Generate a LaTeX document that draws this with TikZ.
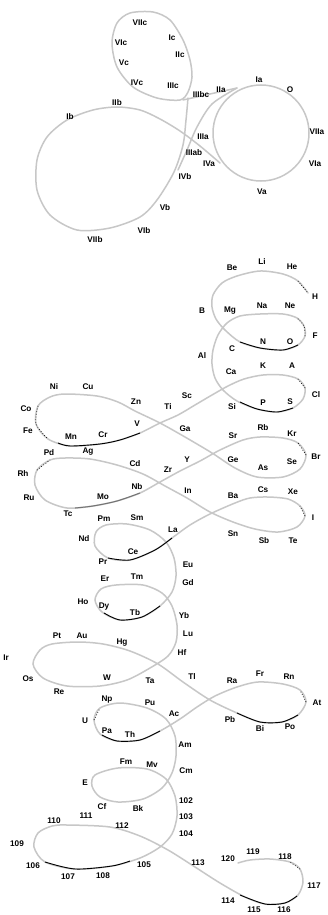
\documentclass[tikz,border=0pt]{standalone}
\usepackage{fontspec}
\setmainfont{Liberation Sans}
\begin{document}
\begin{tikzpicture}[x=1pt,y=-1pt,
  lbl/.style={font=\bfseries\fontsize{8.2}{9}\selectfont, inner sep=0pt},
  crv/.style={draw=black!22, line width=1.5pt, line cap=round},
  dark/.style={draw=black, line width=0.9pt},
  dotb/.style={draw=black, line width=0.7pt, dotted},
]
\useasboundingbox[fill=white] (0,0) rectangle (327,915);

% ---------- top section ----------
\draw[crv] plot[smooth cycle] coordinates {(130,13) (153,12) (170,20) (183,40) (190,60) (192,77) (188,92) (180,100) (157,98) (133,87) (117,67) (112,43) (117,23)};
\draw[crv] (261,133) circle[radius=48];
\draw[crv] plot[smooth] coordinates {(188,98) (186,120) (183,145) (174,172) (157,200) (140,217) (110,228) (77,230) (50,215) (37,190) (37,160) (47,137) (67,120) (93,110) (117,107) (140,110) (160,119) (180,131) (200,146) (220,163)};
\draw[crv] (183,100) -- (237,88);
\draw[crv] plot[smooth] coordinates {(237,88) (212,104) (197,127) (187,150) (178,170)};

\node[lbl] (tVIIc) at (140,23) {VIIc};
\node[lbl] (tVIc) at (121,43) {VIc};
\node[lbl] (tIc) at (172,38) {Ic};
\node[lbl] (tIIc) at (180,55) {IIc};
\node[lbl] (tVc) at (124,63) {Vc};
\node[lbl] (tIVc) at (137,83) {IVc};
\node[lbl] (tIIIc) at (173,86) {IIIc};
\node[lbl] (tIIIbc) at (201,95) {IIIbc};
\node[lbl] (tIIa) at (221,90) {IIa};
\node[lbl] (tIa) at (259,80) {Ia};
\node[lbl] (tO) at (290,90) {O};
\node[lbl] (tVIIa) at (317,132) {VIIa};
\node[lbl] (tVIa) at (315,164) {VIa};
\node[lbl] (tVa) at (262,192) {Va};
\node[lbl] (tIVa) at (209,164) {IVa};
\node[lbl] (tIIIab) at (194,153) {IIIab};
\node[lbl] (tIIIa) at (203,137) {IIIa};
\node[lbl] (tIVb) at (185,177) {IVb};
\node[lbl] (tVb) at (165,208) {Vb};
\node[lbl] (tVIb) at (144,231) {VIb};
\node[lbl] (tVIIb) at (95,240) {VIIb};
\node[lbl] (tIIb) at (117,103) {IIb};
\node[lbl] (tIb) at (70,117) {Ib};

% ---------- main spiral ----------
\draw[crv] plot[smooth] coordinates {
(308,293) (298,281) (283,274) (260,271) (237,276) (222,283) (213,295) (212,307) (216,319) (225,330)
(240,342) (260,348) (283,350) (298,345) (305,336) (304,326) (297,318) (283,314) (260,314) (240,316)
(227,323) (218,335) (213,350) (212,364) (215,378) (223,390) (237,401) (257,409) (277,412) (293,408)
(303,399) (305,388) (298,379) (283,375) (263,375) (244,379) (228,386) (212,395) (195,405) (178,415)
(160,423) (140,433) (120,440) (100,444) (70,446) (48,439) (36,424) (38,406) (50,397) (65,394)
(97,396) (118,402) (135,411) (160,423) (185,437) (212,453) (235,468) (257,477) (283,477) (300,469)
(306,455) (298,443) (283,438) (260,437) (243,440) (220,450) (200,461) (180,471) (160,482) (140,493)
(117,501) (93,506) (67,508) (45,500) (35,485) (37,470) (50,460) (65,458) (90,459) (117,465)
(143,474) (165,486) (187,498) (210,512) (233,522) (255,529) (278,532) (297,527) (305,516) (300,506)
(288,499) (268,497) (250,498) (235,503) (210,514) (190,525) (172,538) (155,550) (130,560) (108,558)
(95,546) (96,532) (106,525) (127,524) (150,530) (166,542) (174,558) (176,576) (172,592) (160,606)
(142,617) (120,620) (102,612) (95,600) (101,589) (116,585) (143,585) (162,593) (172,606) (177,625)
(176,642) (168,656) (150,668) (127,680) (100,686) (67,686) (43,678) (33,664) (40,650) (52,644)
(78,642) (103,644) (130,651) (158,664) (183,682) (210,700) (237,713) (260,722) (282,722) (298,715)
(306,702) (300,690) (283,684) (258,682) (237,687) (215,696) (197,707) (180,719) (160,731) (140,740)
(117,741) (100,734) (94,720) (100,708) (120,703) (147,708) (166,719) (175,736) (176,756) (172,773)
(162,788) (143,799) (118,802) (100,797) (92,786) (95,775) (118,768) (147,769) (166,779) (175,796)
(177,816) (172,834) (160,847) (140,858) (112,866) (75,869) (45,862) (34,847) (38,833) (52,826)
(67,825) (110,827) (140,836) (168,850) (195,867) (220,883) (245,897) (265,904) (285,903) (298,895)
(303,882) (300,869) (290,862) (270,859) (250,860) (238,863)};

% darker stretches
\draw[dark] plot[smooth] coordinates {(240,342) (260,348) (283,350) (298,345)};
\draw[dark] plot[smooth] coordinates {(240,402) (257,409) (277,412) (293,408)};
\draw[dark] plot[smooth] coordinates {(140,433) (120,440) (100,444) (70,446) (58,443)};
\draw[draw=black!55, line width=1pt] plot[smooth] coordinates {(140,493) (117,501) (93,506) (75,508)};
\draw[dark] plot[smooth] coordinates {(172,538) (155,550) (130,560) (108,558)};
\draw[dark] plot[smooth] coordinates {(160,606) (142,617) (120,620) (104,613)};
\draw[dark] plot[smooth] coordinates {(237,713) (260,722) (282,722) (298,715)};
\draw[dark] plot[smooth] coordinates {(160,731) (140,740) (117,741) (102,735)};
\draw[dark] plot[smooth] coordinates {(130,861) (112,866) (75,869) (45,862)};
\draw[dark] plot[smooth] coordinates {(240,895) (265,904) (285,903) (297,896)};
% dotted stretches
\draw[dotb] plot[smooth] coordinates {(298,281) (308,293)};
\draw[dotb] plot[smooth] coordinates {(305,336) (304,326) (297,318)};
\draw[dotb] plot[smooth] coordinates {(305,388) (298,379)};
\draw[dotb] plot[smooth] coordinates {(38,406) (36,424) (48,439)};
\draw[dotb] plot[smooth] coordinates {(306,455) (298,443)};
\draw[dotb] plot[smooth] coordinates {(37,470) (50,460)};
\draw[dotb] plot[smooth] coordinates {(305,516) (300,506)};
\draw[dotb] plot[smooth] coordinates {(306,702) (300,690)};
\draw[dotb] plot[smooth] coordinates {(94,720) (100,708)};
\draw[dotb] plot[smooth] coordinates {(300,869) (290,862)};

% ---------- element labels ----------
\node[lbl] (H) at (315,297) {H};
\node[lbl] (He) at (292,267) {He};
\node[lbl] (Li) at (262,262) {Li};
\node[lbl] (Be) at (232,268) {Be};
\node[lbl] (B) at (202,311) {B};
\node[lbl] (Mg) at (230,311) {Mg};
\node[lbl] (Na) at (262,306) {Na};
\node[lbl] (Ne) at (290,306) {Ne};
\node[lbl] (F) at (315,336) {F};
\node[lbl] (Al) at (202,356) {Al};
\node[lbl] (C) at (232,349) {C};
\node[lbl] (N) at (263,342) {N};
\node[lbl] (Ox) at (290,342) {O};
\node[lbl] (K) at (263,366) {K};
\node[lbl] (A) at (292,366) {A};
\node[lbl] (Ca) at (231,372) {Ca};
\node[lbl] (Cl) at (316,395) {Cl};
\node[lbl] (Sc) at (187,396) {Sc};
\node[lbl] (Ti) at (168,407) {Ti};
\node[lbl] (Si) at (232,407) {Si};
\node[lbl] (P) at (263,403) {P};
\node[lbl] (S) at (290,402) {S};
\node[lbl] (Ni) at (54,387) {Ni};
\node[lbl] (Cu) at (88,387) {Cu};
\node[lbl] (Co) at (26,409) {Co};
\node[lbl] (Zn) at (136,402) {Zn};
\node[lbl] (Fe) at (28,431) {Fe};
\node[lbl] (V) at (137,424) {V};
\node[lbl] (Ga) at (185,429) {Ga};
\node[lbl] (Mn) at (71,437) {Mn};
\node[lbl] (Cr) at (103,435) {Cr};
\node[lbl] (Pd) at (49,453) {Pd};
\node[lbl] (Ag) at (88,452) {Ag};
\node[lbl] (Rb) at (263,428) {Rb};
\node[lbl] (Kr) at (292,434) {Kr};
\node[lbl] (Sr) at (233,436) {Sr};
\node[lbl] (Br) at (316,457) {Br};
\node[lbl] (Y) at (187,460) {Y};
\node[lbl] (Ge) at (233,460) {Ge};
\node[lbl] (Se) at (292,462) {Se};
\node[lbl] (As) at (263,468) {As};
\node[lbl] (Zr) at (168,470) {Zr};
\node[lbl] (Cd) at (135,464) {Cd};
\node[lbl] (Rh) at (23,474) {Rh};
\node[lbl] (Nb) at (137,487) {Nb};
\node[lbl] (Ru) at (29,498) {Ru};
\node[lbl] (Mo) at (103,497) {Mo};
\node[lbl] (Tc) at (68,514) {Tc};
\node[lbl] (In) at (188,491) {In};
\node[lbl] (Cs) at (263,490) {Cs};
\node[lbl] (Xe) at (293,492) {Xe};
\node[lbl] (Ba) at (233,496) {Ba};
\node[lbl] (I) at (313,518) {I};
\node[lbl] (La) at (173,530) {La};
\node[lbl] (Pm) at (104,519) {Pm};
\node[lbl] (Sm) at (137,518) {Sm};
\node[lbl] (Nd) at (84,539) {Nd};
\node[lbl] (Sn) at (233,534) {Sn};
\node[lbl] (Sb) at (264,541) {Sb};
\node[lbl] (Te) at (293,541) {Te};
\node[lbl] (Ce) at (133,552) {Ce};
\node[lbl] (Pr) at (103,562) {Pr};
\node[lbl] (Eu) at (188,565) {Eu};
\node[lbl] (Gd) at (188,583) {Gd};
\node[lbl] (Er) at (105,579) {Er};
\node[lbl] (Tm) at (137,577) {Tm};
\node[lbl] (Ho) at (83,602) {Ho};
\node[lbl] (Dy) at (104,607) {Dy};
\node[lbl] (Tb) at (135,613) {Tb};
\node[lbl] (Yb) at (184,616) {Yb};
\node[lbl] (Lu) at (188,634) {Lu};
\node[lbl] (Pt) at (57,636) {Pt};
\node[lbl] (Au) at (82,636) {Au};
\node[lbl] (Hg) at (122,643) {Hg};
\node[lbl] (Hf) at (182,653) {Hf};
\node[lbl] (Ir) at (6,658) {Ir};
\node[lbl] (Os) at (28,679) {Os};
\node[lbl] (W) at (107,678) {W};
\node[lbl] (Ta) at (150,681) {Ta};
\node[lbl] (Tl) at (192,677) {Tl};
\node[lbl] (Ra) at (232,681) {Ra};
\node[lbl] (Fr) at (260,674) {Fr};
\node[lbl] (Rn) at (289,677) {Rn};
\node[lbl] (At) at (317,703) {At};
\node[lbl] (Re) at (59,692) {Re};
\node[lbl] (Np) at (107,700) {Np};
\node[lbl] (Pu) at (150,703) {Pu};
\node[lbl] (Ac) at (174,714) {Ac};
\node[lbl] (Pb) at (230,720) {Pb};
\node[lbl] (Bi) at (260,729) {Bi};
\node[lbl] (Po) at (290,727) {Po};
\node[lbl] (U) at (85,721) {U};
\node[lbl] (Pa) at (107,731) {Pa};
\node[lbl] (Th) at (130,735) {Th};
\node[lbl] (Am) at (185,745) {Am};
\node[lbl] (Fm) at (126,762) {Fm};
\node[lbl] (Mv) at (152,765) {Mv};
\node[lbl] (Cm) at (186,771) {Cm};
\node[lbl] (E) at (85,783) {E};
\node[lbl] (Cf) at (102,807) {Cf};
\node[lbl] (Bk) at (138,809) {Bk};
\node[lbl] (n102) at (186,801) {102};
\node[lbl] (n103) at (186,817) {103};
\node[lbl] (n104) at (186,834) {104};
\node[lbl] (n111) at (86,816) {111};
\node[lbl] (n110) at (54,821) {110};
\node[lbl] (n112) at (122,826) {112};
\node[lbl] (n109) at (17,844) {109};
\node[lbl] (n106) at (33,866) {106};
\node[lbl] (n105) at (144,865) {105};
\node[lbl] (n107) at (68,877) {107};
\node[lbl] (n108) at (103,876) {108};
\node[lbl] (n113) at (198,863) {113};
\node[lbl] (n120) at (228,859) {120};
\node[lbl] (n119) at (253,852) {119};
\node[lbl] (n118) at (285,857) {118};
\node[lbl] (n117) at (314,886) {117};
\node[lbl] (n114) at (228,901) {114};
\node[lbl] (n115) at (254,910) {115};
\node[lbl] (n116) at (284,910) {116};
\end{tikzpicture}
\end{document}
